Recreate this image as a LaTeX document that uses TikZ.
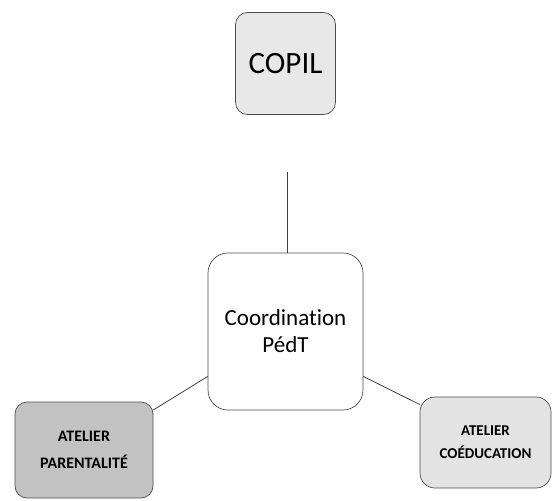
\documentclass[tikz,border=0pt]{standalone}
\usepackage{fontspec}
\setmainfont{Carlito}[Ligatures={NoCommon,NoRequired}]
\begin{document}
\begin{tikzpicture}[x=1pt,y=-1pt,
  bloc/.style={draw=black!70,line width=0.7pt,rounded corners=#1,align=center,inner sep=0pt},
  lien/.style={draw=black!75,line width=0.8pt}]
\useasboundingbox (0,0) rectangle (552,501);
\node[bloc=12pt,fill=black!9,minimum width=100pt,minimum height=102pt,font=\fontsize{31}{37}\selectfont](copil) at (285.5,63.5){COPIL};
\node[bloc=20pt,fill=white,minimum width=155pt,minimum height=157pt,font=\fontsize{23}{27}\selectfont](coord) at (285.5,331.5){Coordination\\PédT};
\node[bloc=12pt,fill=black!24,minimum width=138pt,minimum height=96pt,font=\bfseries\fontsize{16}{27}\selectfont](parent) at (84,450){\raisebox{-3pt}{ATELIER}\\\raisebox{-3pt}{PARENTALITÉ}};
\node[bloc=15pt,fill=black!11,minimum width=131pt,minimum height=91pt,font=\bfseries\fontsize{15}{23}\selectfont](coedu) at (485.5,442.5){\raisebox{-6pt}{ATELIER}\\\raisebox{-6pt}{COÉDUCATION}};
\coordinate (copilpied) at (287,172);
\draw[lien](copilpied)--(coord.north-|copilpied);
\draw[lien](coord.210)--(parent.30);
\draw[lien](coord.-30)--(coedu.150);
\end{tikzpicture}
\end{document}
